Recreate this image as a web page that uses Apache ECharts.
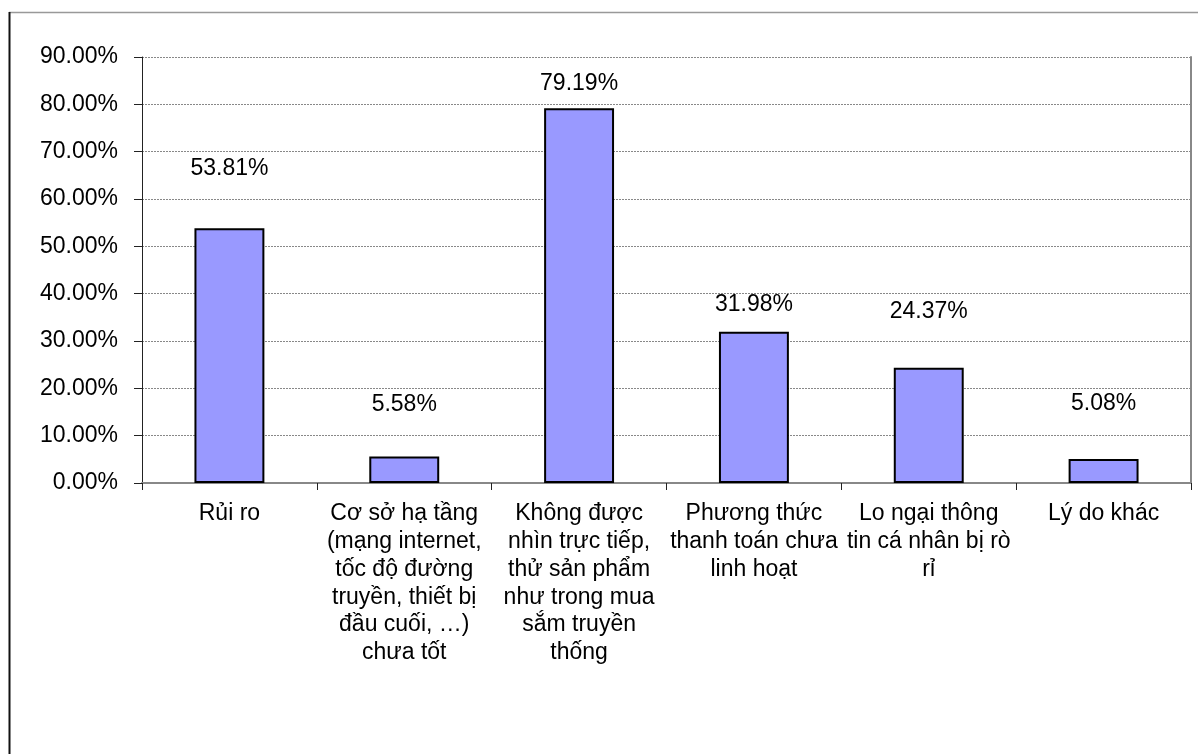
<!DOCTYPE html>
<html>
<head>
<meta charset="utf-8">
<title>Lý do</title>
<script src="https://cdn.jsdelivr.net/npm/echarts@6/dist/echarts.min.js"></script>
<style>
html,body{margin:0;padding:0;background:#fff;}
#main{width:1198px;height:754px;}
</style>
</head>
<body>
<div id="main"></div>
<script>
// danh mục (trục x)
var categories = [
	'Rủi ro',
	'Cơ sở hạ tầng\n(mạng internet,\ntốc độ đường\ntruyền, thiết bị\nđầu cuối, …)\nchưa tốt',
	'Không được\nnhìn trực tiếp,\nthử sản phẩm\nnhư trong mua\nsắm truyền\nthống',
	'Phương thức\nthanh toán chưa\nlinh hoạt',
	'Lo ngại thông\ntin cá nhân bị rò\nrỉ',
	'Lý do khác'
];
// tỷ lệ (%)
var values = [53.81, 5.58, 79.19, 31.98, 24.37, 5.08];
// trục y
var yMin = 0, yMax = 90, yStep = 10;

// khoảng cách nhãn so với đỉnh cột (px) - nhãn bị kéo lệch trong bản gốc
var labelGap = [48, 40, 13, 15, 44, 44];

var FONT = '"Liberation Sans", Arial, sans-serif';

var chart = echarts.init(document.getElementById('main'));

var barData = values.map(function(v, i){
	return {
		value: v,
		label: {distance: labelGap[i]}
	};
});

var option = {
	animation: false,
	backgroundColor: '#fff',
	textStyle: {fontFamily: FONT},
	grid: {
		left: 142,
		right: 7,
		top: 57,
		bottom: 271
	},
	xAxis: [{
		type: 'category',
		data: categories,
		axisLine: {lineStyle: {color: '#222', width: 1}},
		axisTick: {show: true, length: 7, lineStyle: {color: '#222'}},
		axisLabel: {
			interval: 0,
			margin: 17,
			color: '#000',
			fontSize: 23,
			lineHeight: 27.8,
			fontFamily: FONT,
			hideOverlap: false
		}
	}, {
		// viền trên của vùng vẽ
		type: 'category',
		position: 'top',
		data: categories,
		axisLine: {lineStyle: {color: '#888', width: 2}},
		axisTick: {show: false},
		axisLabel: {show: false}
	}],
	yAxis: [{
		type: 'value',
		min: yMin,
		max: yMax,
		interval: yStep,
		axisLine: {show: true, lineStyle: {color: '#222', width: 1}},
		axisTick: {show: true, length: 8, lineStyle: {color: '#222'}},
		axisLabel: {
			margin: 24,
			color: '#000',
			fontSize: 23,
			fontFamily: FONT,
			formatter: function(v){ return v.toFixed(2) + '%'; }
		},
		splitLine: {
			show: true,
			lineStyle: {color: '#888', width: 1, type: [2, 1]}
		}
	}, {
		// viền phải
		type: 'value',
		position: 'right',
		min: yMin,
		max: yMax,
		interval: yStep,
		axisLine: {show: true, lineStyle: {color: '#888', width: 2}},
		axisTick: {show: false},
		axisLabel: {show: false},
		splitLine: {show: false}
	}],
	series: [{
		type: 'bar',
		data: barData,
		barWidth: '40%',
		itemStyle: {
			color: '#9999FF',
			borderColor: '#000',
			borderWidth: 2
		},
		label: {
			show: true,
			position: 'top',
			color: '#000',
			fontSize: 23,
			fontFamily: FONT,
			formatter: function(p){ return p.value.toFixed(2) + '%'; }
		}
	}],
	graphic: [{
		type: 'line',
		silent: true,
		shape: {x1: 9, y1: 12.5, x2: 1198, y2: 12.5},
		style: {stroke: '#999', lineWidth: 1.5}
	}, {
		type: 'line',
		silent: true,
		shape: {x1: 9.5, y1: 12, x2: 9.5, y2: 754},
		style: {stroke: '#111', lineWidth: 2}
	}]
};

chart.setOption(option);
</script>
</body>
</html>
